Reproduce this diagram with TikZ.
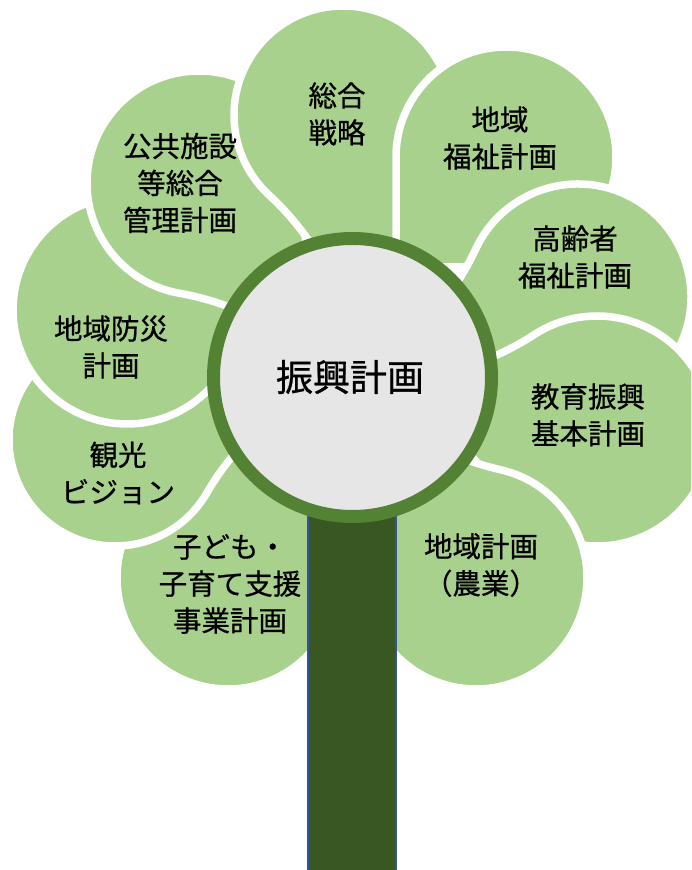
\documentclass[tikz,border=0pt]{standalone}
\usepackage{fontspec}
\setmainfont{Noto Sans CJK JP}
\newfontfamily\jpfont{Noto Sans CJK JP}[FakeBold=0.7]
\usetikzlibrary{calc}
\definecolor{petalgreen}{HTML}{A9D18E}
\definecolor{ringgreen}{HTML}{548235}
\definecolor{stemgreen}{HTML}{385723}
\definecolor{stemblue}{HTML}{2F5597}
\definecolor{coregray}{HTML}{E7E6E6}
\tikzset{
  petal/.style={fill=petalgreen, draw=white, line width=7.5pt, line join=round},
  stembox/.style={fill=stemgreen, draw=stemblue, line width=1.5pt},
  core/.style={fill=coregray, draw=ringgreen, line width=13pt},
  ptext/.style={font=\jpfont\fontsize{28.5}{37}\selectfont, align=center, text=black, inner sep=0pt},
  ctext/.style={font=\jpfont\fontsize{37}{44}\selectfont, text=black, inner sep=0pt}
}
% #1 cx, #2 cy (from top), #3 radius, #4 tip direction, #5 tip factor
\newcommand\petalshape[5]{%
  \coordinate (pC) at (#1,{870-#2});
  \coordinate (pT) at ($(pC)+({#4}:{#5*#3*1.41421})$);
  \coordinate (pA) at ($(pC)+({#4+45}:{#3})$);
  \coordinate (pB) at ($(pC)+({#4-45}:{#3})$);
  \coordinate (pQa) at ($(pA)+({#4-45}:{#5*#3/2})$);
  \coordinate (pQb) at ($(pB)+({#4+45}:{#5*#3/2})$);
  \path[petal] (pT) .. controls ($(pT)!2/3!(pQa)$) and ($(pA)!2/3!(pQa)$) .. (pA)
    arc[start angle={#4+45}, end angle={#4+315}, radius=#3]
    .. controls ($(pB)!2/3!(pQb)$) and ($(pT)!2/3!(pQb)$) .. (pT) -- cycle;
}
\begin{document}
\begin{tikzpicture}[x=1pt, y=1pt]
\useasboundingbox (0,0) rectangle (691,870);
\clip (0,0) rectangle (691,870);
% petals, from the bottom layer up
\petalshape{228}{578}{111}{72}{1.4}   % kodomo
\petalshape{115}{440}{106}{15}{1.4}   % kanko
\petalshape{127}{310}{114}{0}{1.4}    % bosai
\petalshape{199}{183}{112}{-55}{1.4}  % kokyo
% sogo senryaku: right side tucked under its neighbours
\path[petal] (350.3,547) -- (405,615) -- (452,755)
  arc[start angle=0, end angle=227, radius=109]
  .. controls (305.2,641.8) and (331.8,599.1) .. (350.3,547) -- cycle;
\petalshape{506}{157}{110}{-135}{1.0} % chiiki fukushi
\petalshape{578}{297}{113}{-160}{1.4} % koreisha
\petalshape{597}{431}{115}{168}{1.4}  % kyoiku
\petalshape{476}{578}{111}{122}{1.3}  % chiiki keikaku
% stem and centre
\node[stembox, minimum width=88pt, minimum height=400pt, anchor=north west, inner sep=0pt] (stem) at (307,380) {};
\node[core, circle, minimum size=278pt, inner sep=0pt] (hub) at (352.5,492.5) {};
% texts
\node[ctext] (tcenter) at (350,493) {振興計画};
\node[ptext] (tsogo) at (337,756) {総合\\戦略};
\node[ptext] (tfukushi) at (500,732) {地域\\福祉計画};
\node[ptext] (tkorei) at (575,613) {高齢者\\福祉計画};
\node[ptext] (tkyoiku) at (588,455) {教育振興\\基本計画};
\node[ptext] (tnogyo) at (481,305) {地域計画\\（農業）};
\node[ptext] (tkodomo) at (230,286) {子ども・\\子育て支援\\事業計画};
\node[ptext] (tkanko) at (118,397) {観光\\ビジョン};
\node[ptext] (tbosai) at (111,523) {地域防災\\計画};
\node[ptext] (tkokyo) at (180,687) {公共施設\\等総合\\管理計画};
\end{tikzpicture}
\end{document}
